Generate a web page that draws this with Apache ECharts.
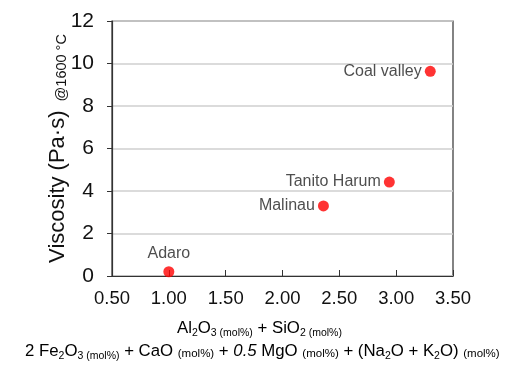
<!DOCTYPE html>
<html><head><meta charset="utf-8">
<script src="https://cdn.jsdelivr.net/npm/echarts@6/dist/echarts.min.js"></script>
<style>html,body{margin:0;padding:0;background:#fff}#c{width:512px;height:367px}</style>
</head><body><div id="c"></div>
<script>
const names = ['Adaro', 'Malinau', 'Tanito Harum', 'Coal valley'];
const xValues = [1.00, 2.36, 2.94, 3.30];
const yValues = [0.2, 3.3, 4.42, 9.63];
const labelPositions = ['top', 'left', 'left', 'left'];
const xMin = 0.5, xMax = 3.5, xStep = 0.5;
const yMin = 0, yMax = 12, yStep = 2;

const FONT = '"Liberation Sans", Arial, sans-serif';
const chart = echarts.init(document.getElementById('c'), null, {renderer: 'canvas'});

const data = names.map((n, i) => ({
  name: n,
  value: [xValues[i], yValues[i]],
  label: {position: labelPositions[i], distance: labelPositions[i] === 'top' ? 5 : 3}
}));

const subStyle = {fontSize: 10.5, fontFamily: FONT, color: '#111', padding: [10, 0, 0, 0]};
const mainStyle = {fontSize: 16.8, fontFamily: FONT, color: '#111'};
const rich = {
  n: mainStyle,
  i: Object.assign({}, mainStyle, {fontStyle: 'italic'}),
  s: subStyle,
  m: {fontSize: 11.5, fontFamily: FONT, color: '#111', padding: [5, 0, 0, 0]}
};

chart.setOption({
  animation: false,
  backgroundColor: '#fff',
  grid: {left: 112, right: 59, top: 21, bottom: 91, show: true, borderColor: '#333', borderWidth: 1.2, backgroundColor: 'transparent'},
  xAxis: {
    type: 'value', min: xMin, max: xMax, interval: xStep,
    axisLine: {show: true, lineStyle: {color: '#333', width: 1.2}},
    axisTick: {show: true, inside: true, length: 6, lineStyle: {color: '#333'}},
    splitLine: {show: false},
    axisLabel: {fontSize: 18.5, fontFamily: FONT, color: '#111', margin: 13, formatter: v => v.toFixed(2)}
  },
  yAxis: {
    type: 'value', min: yMin, max: yMax, interval: yStep,
    axisLine: {show: true, lineStyle: {color: '#333', width: 1.2}},
    axisTick: {show: true, inside: false, length: 5, lineStyle: {color: '#333'}},
    splitLine: {show: true, lineStyle: {color: '#cfcfcf', width: 1.5}},
    axisLabel: {fontSize: 21, fontFamily: FONT, color: '#111', margin: 18},
    name: '{a|Viscosity (Pa·s) }{b|@1600 °C}',
    nameLocation: 'middle', nameRotate: 90, nameGap: 43,
    nameMoveOverlap: false,
    nameTextStyle: {
      rich: {
        a: {fontSize: 22, fontFamily: FONT, color: '#111'},
        b: {fontSize: 14.5, fontFamily: FONT, color: '#111', verticalAlign: 'bottom', padding: [0, 0, 0, 3]}
      }
    }
  },
  graphic: [
    {type: 'text', left: 177, top: 320, style: {
      text: '{n|Al}{s|2}{n|O}{s|3 (mol%)}{n| + SiO}{s|2 (mol%)}', rich: rich}},
    {type: 'text', left: 25, top: 343, style: {
      text: '{n|2 Fe}{s|2}{n|O}{s|3 (mol%)}{n| + CaO }{m|(mol%)}{n| + }{i|0.5}{n| MgO }{m|(mol%)}{n| + (Na}{s|2}{n|O + K}{s|2}{n|O) }{m|(mol%)}', rich: rich}}
  ],
  series: [{
    type: 'scatter',
    data: data,
    symbolSize: 11,
    itemStyle: {color: '#ff0000'},
    label: {show: true, formatter: p => p.name, fontSize: 16, fontFamily: FONT, color: '#222'}
  }]
});
</script></body></html>
